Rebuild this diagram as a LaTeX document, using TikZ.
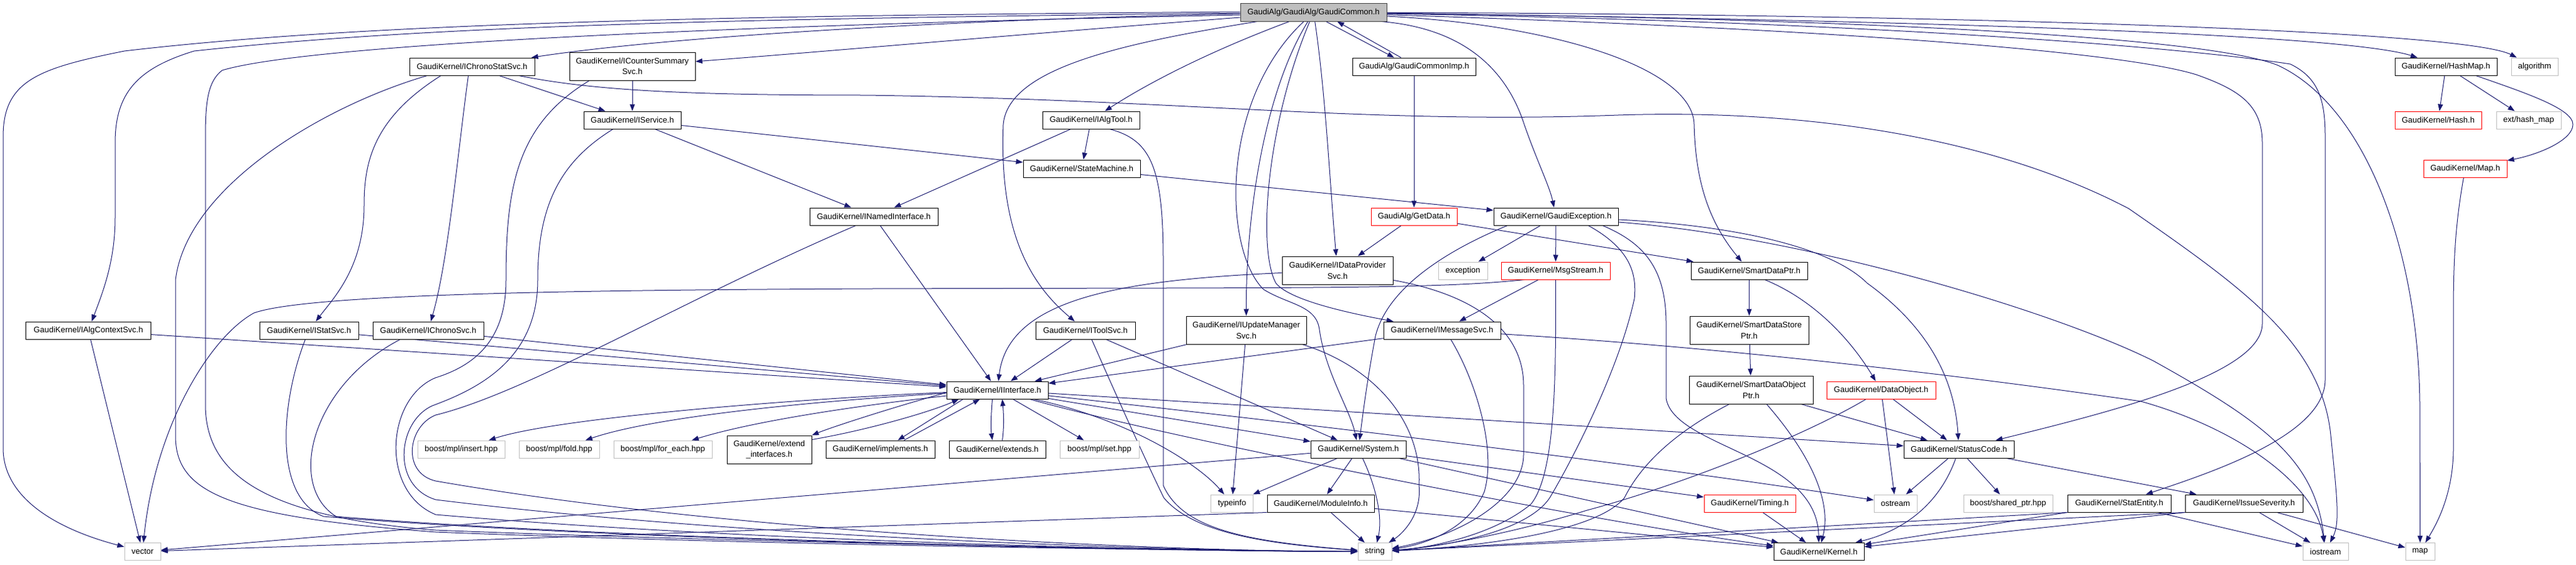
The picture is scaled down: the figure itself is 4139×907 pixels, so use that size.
\documentclass[tikz,border=0pt]{standalone}
\usepackage{fontspec}
\setmainfont{Liberation Sans}
\usetikzlibrary{arrows.meta}
\definecolor{edgec}{HTML}{191970}
\definecolor{gbord}{HTML}{BFBFBF}
\definecolor{rbord}{HTML}{FF0000}
\definecolor{rootf}{HTML}{BFBFBF}
\definecolor{rootb}{HTML}{404040}
\newcommand{\nodefs}{\fontsize{13bp}{17.7bp}\selectfont}
\pgfdeclarelayer{bg}
\pgfsetlayers{bg,main}
\begin{document}
\begin{tikzpicture}[x=1bp,y=-1bp,
  nd/.style={draw=black, fill=white, line width=1bp, rectangle, inner sep=0pt,
    minimum height=28bp, align=center, font=\nodefs, text=black},
  extn/.style={draw=gbord},
  trunc/.style={draw=rbord},
  rootn/.style={draw=rootb, fill=rootf},
  tall/.style={minimum height=45bp},
  edg/.style={draw=edgec, line width=1bp, -{Triangle[length=11bp,width=8bp]}}]
\useasboundingbox (0,0) rectangle (4139,907);

% ---------------- nodes ----------------
\node[nd, rootn, minimum width=235bp] (R) at (2110.5,20) {GaudiAlg/GaudiAlg/GaudiCommon.h};
\node[nd, minimum width=201bp] (ichronostat) at (758.5,107) {GaudiKernel/IChronoStatSvc.h};
\node[nd, tall, minimum width=202bp] (icounter) at (1016,106.5) {GaudiKernel/ICounterSummary\\Svc.h};
\node[nd, minimum width=198bp] (gcimp) at (2272,107) {GaudiAlg/GaudiCommonImp.h};
\node[nd, minimum width=164bp] (hashmap) at (3930,107) {GaudiKernel/HashMap.h};
\node[nd, extn, minimum width=75bp] (algorithm) at (4072.5,107) {algorithm};
\node[nd, minimum width=156bp] (iservice) at (1016,193) {GaudiKernel/IService.h};
\node[nd, minimum width=156bp] (ialgtool) at (1753,193) {GaudiKernel/IAlgTool.h};
\node[nd, trunc, minimum width=139bp] (hash) at (3917.5,193) {GaudiKernel/Hash.h};
\node[nd, extn, minimum width=104bp] (exthash) at (4063,193) {ext/hash\_map};
\node[nd, minimum width=188bp] (statemachine) at (1738,271) {GaudiKernel/StateMachine.h};
\node[nd, trunc, minimum width=134bp] (maph) at (3961,271) {GaudiKernel/Map.h};
\node[nd, minimum width=206bp] (inamed) at (1404,348) {GaudiKernel/INamedInterface.h};
\node[nd, trunc, minimum width=138bp] (getdata) at (2272,348) {GaudiAlg/GetData.h};
\node[nd, minimum width=200bp] (gexc) at (2500,348) {GaudiKernel/GaudiException.h};
\node[nd, tall, minimum width=178bp] (idataprov) at (2149,434.5) {GaudiKernel/IDataProvider\\Svc.h};
\node[nd, extn, minimum width=79bp] (exception) at (2350.5,435) {exception};
\node[nd, trunc, minimum width=175bp] (msgstream) at (2499.5,435) {GaudiKernel/MsgStream.h};
\node[nd, minimum width=187bp] (smartdataptr) at (2810.5,435) {GaudiKernel/SmartDataPtr.h};
\node[nd, minimum width=200bp] (ialgctx) at (142,531) {GaudiKernel/IAlgContextSvc.h};
\node[nd, minimum width=159bp] (istatsvc) at (496.5,531) {GaudiKernel/IStatSvc.h};
\node[nd, minimum width=178bp] (ichronosvc) at (688,531) {GaudiKernel/IChronoSvc.h};
\node[nd, minimum width=160bp] (itoolsvc) at (1744,531) {GaudiKernel/IToolSvc.h};
\node[nd, tall, minimum width=193bp] (iupdate) at (2002.5,530.5) {GaudiKernel/IUpdateManager\\Svc.h};
\node[nd, minimum width=188bp] (imsgsvc) at (2317,531) {GaudiKernel/IMessageSvc.h};
\node[nd, tall, minimum width=191bp] (smartstore) at (2810.5,530.5) {GaudiKernel/SmartDataStore\\Ptr.h};
\node[nd, tall, minimum width=199bp] (smartobj) at (2813.5,626.5) {GaudiKernel/SmartDataObject\\Ptr.h};
\node[nd, trunc, minimum width=175bp] (dataobject) at (3022.5,627) {GaudiKernel/DataObject.h};
\node[nd, minimum width=163bp] (iinterface) at (1602.5,627) {GaudiKernel/IInterface.h};
\node[nd, extn, minimum width=140bp] (insert) at (741,722) {boost/mpl/insert.hpp};
\node[nd, extn, minimum width=129bp] (fold) at (898.5,722) {boost/mpl/fold.hpp};
\node[nd, extn, minimum width=158bp] (foreach) at (1065,722) {boost/mpl/for\_each.hpp};
\node[nd, tall, minimum width=136bp] (extendif) at (1236,722.5) {GaudiKernel/extend\\\_interfaces.h};
\node[nd, minimum width=175bp] (implements) at (1414.5,722) {GaudiKernel/implements.h};
\node[nd, minimum width=155bp] (extends) at (1602.5,722) {GaudiKernel/extends.h};
\node[nd, extn, minimum width=127bp] (mplset) at (1766.5,722) {boost/mpl/set.hpp};
\node[nd, minimum width=153bp] (system) at (2182.5,722) {GaudiKernel/System.h};
\node[nd, minimum width=177bp] (statuscode) at (3147.5,722) {GaudiKernel/StatusCode.h};
\node[nd, extn, minimum width=68bp] (typeinfo) at (1979.5,809) {typeinfo};
\node[nd, minimum width=172bp] (moduleinfo) at (2122,809) {GaudiKernel/ModuleInfo.h};
\node[nd, trunc, minimum width=147bp] (timing) at (2811.5,809) {GaudiKernel/Timing.h};
\node[nd, extn, minimum width=69bp] (ostream) at (3045.5,809) {ostream};
\node[nd, extn, minimum width=143bp] (sharedptr) at (3226.5,809) {boost/shared\_ptr.hpp};
\node[nd, minimum width=166bp] (statentity) at (3405,809) {GaudiKernel/StatEntity.h};
\node[nd, minimum width=189bp] (issue) at (3605.5,809) {GaudiKernel/IssueSeverity.h};
\node[nd, extn, minimum width=58bp] (vec) at (229,886.5) {vector};
\node[nd, extn, minimum width=54bp] (str) at (2209,886.5) {string};
\node[nd, minimum width=145bp] (kernel) at (2922.5,886.5) {GaudiKernel/Kernel.h};
\node[nd, extn, minimum width=73bp] (iostream) at (3736.5,886.5) {iostream};
\node[nd, extn, minimum width=47bp] (mapx) at (3888.5,886.5) {map};

% ---------------- edges ----------------
\begin{pgfonlayer}{bg}
\fill[white] (0,0) rectangle (4139,907);
% root
\draw[edg] ([yshift=-2bp]R.west) .. controls (1600,30) and (1100,55) .. (ichronostat);
\draw[edg] ([yshift=-8bp]R.west) .. controls (1700,50) and (1300,85) .. (icounter);
\draw[edg] ([yshift=1bp]R.west) .. controls (1200,25) and (600,35) .. (200,82) .. controls (60,110) and (5,130) .. (5,220) -- (5,720) .. controls (5,800) and (90,850) .. (vec);
\draw[edg] ([yshift=-1bp]R.west) .. controls (1200,30) and (700,40) .. (312,82) .. controls (220,110) and (185,150) .. (185,230) -- (185,350) .. controls (185,420) and (165,470) .. (ialgctx);
\draw[edg] ([yshift=-4bp]R.west) .. controls (1200,40) and (500,70) .. (357,113) .. controls (335,130) and (330,160) .. (330,220) -- (330,650) .. controls (330,760) and (420,830) .. (700,852) .. controls (1200,872) and (1900,884) .. (str);
\draw[edg] (R) .. controls (1950,80) and (1850,130) .. (ialgtool);
\draw[edg] (R) .. controls (1800,70) and (1620,110) .. (1612,200) .. controls (1605,380) and (1660,460) .. (itoolsvc);
\draw[edg] (R) .. controls (2030,150) and (2002,350) .. (iupdate);
\draw[edg] (R) .. controls (1960,160) and (1965,400) .. (2030,465) .. controls (2070,490) and (2115,490) .. (2120,530) .. controls (2130,600) and (2170,660) .. (system);
\draw[edg] (R) .. controls (2035,200) and (2020,400) .. (2050,455) .. controls (2070,480) and (2150,500) .. (imsgsvc);
\draw[edg] (R) .. controls (2130,150) and (2137,300) .. (idataprov);
\draw[edg] ([xshift=20bp]R.south) -- ([xshift=-32bp]gcimp.north);
\draw[edg] ([xshift=-21bp]gcimp.north) -- ([xshift=38bp]R.south);
\draw[edg] ([xshift=-10bp]R.south east) .. controls (2350,45) and (2420,110) .. (2449,200) .. controls (2470,260) and (2490,300) .. (gexc);
\draw[edg] (R) .. controls (2500,40) and (2720,110) .. (2722,200) .. controls (2724,280) and (2740,350) .. (smartdataptr);
\draw[edg] (R) .. controls (2900,30) and (3750,50) .. (hashmap);
\draw[edg] (R) .. controls (3000,22) and (3950,45) .. (algorithm);
\draw[edg] (R) .. controls (3000,30) and (3550,60) .. (3660,105) .. controls (3800,170) and (3886,400) .. (3888,650) -- (mapx);
\draw[edg] (R) .. controls (3000,35) and (3500,75) .. (3680,103) .. controls (3725,125) and (3736,160) .. (3736,220) -- (3736,610) .. controls (3736,700) and (3550,760) .. (statentity);
\draw[edg] (R) .. controls (2900,45) and (3400,80) .. (3529,120) .. controls (3600,145) and (3635,170) .. (3635,230) -- (3635,520) .. controls (3635,600) and (3400,660) .. (statuscode);
% IChronoStatSvc
\draw[edg] ([xshift=-50bp]ichronostat.south) .. controls (600,190) and (585,260) .. (585,330) .. controls (585,430) and (535,480) .. (istatsvc);
\draw[edg] ([xshift=-6bp]ichronostat.south) .. controls (735,250) and (720,420) .. (ichronosvc);
\draw[edg] (ichronostat) -- (iservice);
\draw[edg] ([xshift=-72bp]ichronostat.south) .. controls (520,170) and (300,300) .. (282,450) -- (282,700) .. controls (282,790) and (360,830) .. (700,855) .. controls (1200,875) and (1900,885) .. (str);
\draw[edg] ([xshift=75bp]ichronostat.south) .. controls (950,145) and (1100,153) .. (1390,153) .. controls (1900,160) and (2200,200) .. (2600,185) .. controls (2900,175) and (3200,220) .. (3420,335) .. controls (3600,460) and (3730,550) .. (3745,700) .. controls (3755,800) and (3760,840) .. (iostream);
% IAlgContextSvc, IStatSvc, IChronoSvc
\draw[edg] (ialgctx) -- (iinterface);
\draw[edg] (ialgctx) -- (vec);
\draw[edg] (istatsvc) -- (iinterface);
\draw[edg] ([xshift=-6bp]istatsvc.south) .. controls (450,650) and (440,800) .. (520,830) .. controls (1000,870) and (1900,886) .. (str);
\draw[edg] (ichronosvc) -- (iinterface);
\draw[edg] ([xshift=-45bp]ichronosvc.south) .. controls (500,620) and (460,780) .. (540,830) .. controls (1000,868) and (1900,886) .. (str);
% ICounterSummarySvc
\draw[edg] (icounter) -- (iservice);
\draw[edg] ([xshift=-69bp]icounter.south) .. controls (830,200) and (813,300) .. (813,450) .. controls (813,540) and (770,585) .. (700,607) .. controls (620,640) and (610,790) .. (700,827) .. controls (1200,870) and (1900,886) .. (str);
% IService
\draw[edg] (iservice) -- (inamed);
\draw[edg] (iservice) -- (statemachine);
\draw[edg] ([xshift=-31bp]iservice.south) .. controls (900,260) and (864,330) .. (864,450) .. controls (864,570) and (780,620) .. (700,650) .. controls (640,670) and (625,780) .. (700,803) .. controls (1200,865) and (1900,886) .. (str);
% INamedInterface
\draw[edg] (inamed) -- (iinterface);
\draw[edg] ([xshift=-29bp]inamed.south) .. controls (1100,480) and (850,630) .. (700,667) .. controls (655,685) and (645,760) .. (700,773) .. controls (1200,860) and (1900,886) .. (str);
% IAlgTool
\draw[edg] (ialgtool) -- (inamed);
\draw[edg] (ialgtool) -- (statemachine);
\draw[edg] ([xshift=30bp]ialgtool.south) .. controls (1850,225) and (1869,270) .. (1869,420) -- (1869,780) .. controls (1900,850) and (2000,870) .. (str);
% StateMachine, GaudiCommonImp, GetData
\draw[edg] (statemachine) -- (gexc);
\draw[edg] (gcimp) -- (getdata);
\draw[edg] (getdata) -- (idataprov);
\draw[edg] (getdata) -- (smartdataptr);
% IDataProviderSvc
\draw[edg] (idataprov) .. controls (1800,450) and (1620,480) .. (iinterface);
\draw[edg] (idataprov) .. controls (2350,470) and (2448,520) .. (2448,620) -- (2448,730) .. controls (2448,800) and (2350,860) .. (str);
% GaudiException
\draw[edg] ([xshift=-78bp]gexc.south) .. controls (2330,400) and (2230,460) .. (2210,540) .. controls (2195,620) and (2188,680) .. (system);
\draw[edg] (gexc) -- (exception);
\draw[edg] (gexc) -- (msgstream);
\draw[edg] ([xshift=52bp]gexc.south) .. controls (2620,400) and (2630,440) .. (2626,480) .. controls (2600,600) and (2520,750) .. (2490,800) .. controls (2450,860) and (2300,880) .. (str);
\draw[edg] ([xshift=75bp]gexc.south) .. controls (2640,390) and (2677,430) .. (2677,520) -- (2677,640) .. controls (2690,720) and (2920,730) .. (kernel);
\draw[edg] ([yshift=-5bp]gexc.east) .. controls (2780,362) and (2940,395) .. (3000,455) .. controls (3090,520) and (3140,600) .. (statuscode);
\draw[edg] ([yshift=-9bp]gexc.east) .. controls (2900,380) and (3300,500) .. (3460,580) .. controls (3640,680) and (3720,740) .. (iostream);
% MsgStream
\draw[edg] ([xshift=-50bp]msgstream.south) .. controls (2300,465) and (2100,462) .. (1400,464) .. controls (1000,466) and (500,470) .. (408,503) .. controls (340,540) and (250,680) .. (vec);
\draw[edg] (msgstream) -- (imsgsvc);
\draw[edg] (msgstream) .. controls (2500,600) and (2500,760) .. (2460,810) .. controls (2400,860) and (2300,880) .. (str);
% Smart pointers, DataObject
\draw[edg] (smartdataptr) -- (smartstore);
\draw[edg] ([xshift=25bp]smartdataptr.south) .. controls (2910,480) and (2970,540) .. (dataobject);
\draw[edg] (smartstore) -- (smartobj);
\draw[edg] ([xshift=-35bp]smartobj.south) .. controls (2700,690) and (2640,740) .. (2610,800) .. controls (2560,860) and (2350,880) .. (str);
\draw[edg] ([xshift=25bp]smartobj.south) .. controls (2900,720) and (2945,800) .. (kernel);
\draw[edg] (smartobj) -- (statuscode);
\draw[edg] (dataobject) .. controls (2900,700) and (2700,780) .. (2550,820) .. controls (2420,860) and (2300,880) .. (str);
\draw[edg] (dataobject) -- (ostream);
\draw[edg] (dataobject) -- (statuscode);
% IToolSvc
\draw[edg] (itoolsvc) -- (iinterface);
\draw[edg] (itoolsvc) -- (system);
\draw[edg] ([xshift=10bp]itoolsvc.south) .. controls (1800,650) and (1850,760) .. (1870,800) .. controls (1920,860) and (2050,875) .. (str);
% IUpdateManagerSvc
\draw[edg] (iupdate) -- (iinterface);
\draw[edg] (iupdate) -- (typeinfo);
\draw[edg] ([xshift=90bp]iupdate.south) .. controls (2210,590) and (2285,680) .. (2280,780) .. controls (2285,830) and (2250,860) .. (str);
% IMessageSvc
\draw[edg] (imsgsvc) -- (iinterface);
\draw[edg] ([xshift=14bp]imsgsvc.south) .. controls (2370,610) and (2405,720) .. (2385,790) .. controls (2360,850) and (2290,875) .. (str);
\draw[edg] (imsgsvc) .. controls (2800,560) and (3200,610) .. (3440,645) .. controls (3600,690) and (3720,780) .. (iostream);
% IInterface
\draw[edg] (iinterface) .. controls (1300,640) and (900,670) .. (insert);
\draw[edg] (iinterface) .. controls (1300,645) and (1050,670) .. (fold);
\draw[edg] (iinterface) .. controls (1350,655) and (1200,680) .. (foreach);
\draw[edg] ([yshift=-4bp]iinterface.west) .. controls (1450,650) and (1340,685) .. (extendif.north east);
\draw[edg] ([yshift=-7bp]extendif.north east) .. controls (1400,690) and (1500,660) .. ([xshift=-62bp]iinterface.south);
\draw[edg] ([xshift=-55bp]iinterface.south) -- ([xshift=28bp]implements.north);
\draw[edg] ([xshift=38bp]implements.north) -- ([xshift=-28bp]iinterface.south);
\draw[edg] ([xshift=-8bp]iinterface.south) .. controls (1592,670) and (1592,690) .. ([xshift=-8bp]extends.north);
\draw[edg] ([xshift=8bp]extends.north) .. controls (1613,690) and (1613,670) .. ([xshift=8bp]iinterface.south);
\draw[edg] (iinterface) -- (mplset);
\draw[edg] (iinterface) -- (system);
\draw[edg] (iinterface) -- (statuscode);
\draw[edg] (iinterface) .. controls (2000,670) and (2600,740) .. (ostream);
\draw[edg] (iinterface) .. controls (1900,710) and (2600,845) .. (kernel);
\draw[edg] ([xshift=58bp]iinterface.south) .. controls (1800,670) and (1920,740) .. (typeinfo);
% System
\draw[edg] (system) -- (typeinfo);
\draw[edg] (system) -- (moduleinfo);
\draw[edg] (system) .. controls (2210,780) and (2222,830) .. (str);
\draw[edg] (system) -- (vec);
\draw[edg] (system) -- (timing);
\draw[edg] (system) -- (kernel);
% ModuleInfo, Timing
\draw[edg] (moduleinfo.south west) -- (vec);
\draw[edg] (moduleinfo) -- (str);
\draw[edg] (moduleinfo) -- (kernel);
\draw[edg] (timing) -- (kernel);
% StatusCode
\draw[edg] (statuscode) -- (ostream);
\draw[edg] (statuscode) -- (sharedptr);
\draw[edg] (statuscode) .. controls (3120,800) and (3070,850) .. (kernel);
\draw[edg] (statuscode) -- (issue);
% StatEntity, IssueSeverity
\draw[edg] (statentity.south west) -- (str);
\draw[edg] (statentity.south west) -- (kernel);
\draw[edg] (statentity) -- (iostream);
\draw[edg] (issue.south west) -- (str);
\draw[edg] (issue.south west) -- (kernel);
\draw[edg] (issue) -- (iostream);
\draw[edg] (issue) -- (mapx);
% HashMap, Map
\draw[edg] (hashmap) -- (hash);
\draw[edg] (hashmap) -- (exthash);
\draw[edg] ([xshift=48bp]hashmap.south) .. controls (4060,150) and (4134,175) .. (4134,200) .. controls (4134,225) and (4080,248) .. (maph);
\draw[edg] (maph) .. controls (3945,360) and (3942,420) .. (3942,500) -- (3942,720) .. controls (3942,800) and (3910,850) .. (mapx);
\end{pgfonlayer}
\end{tikzpicture}
\end{document}
